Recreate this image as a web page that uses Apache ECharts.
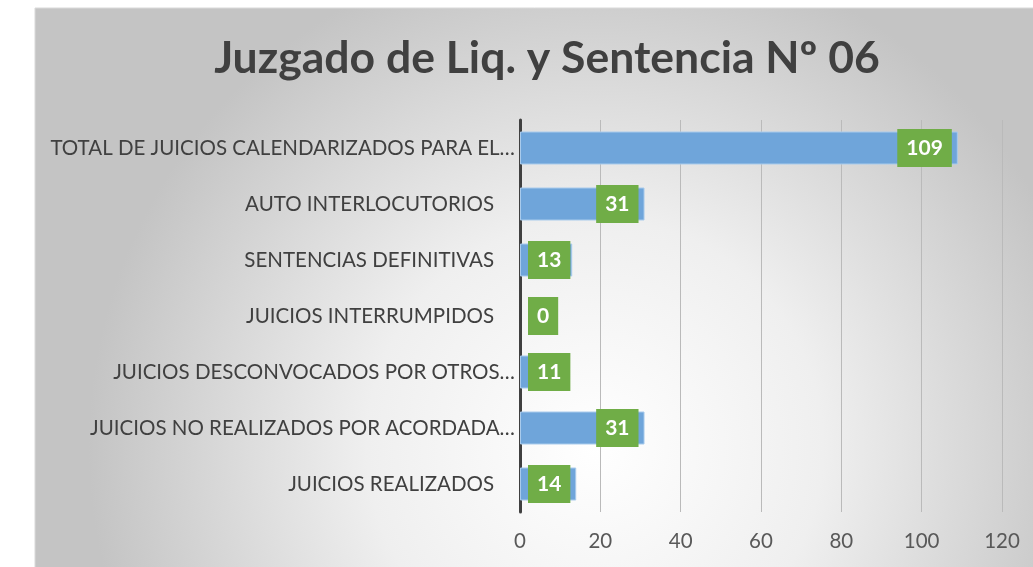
<!DOCTYPE html>
<html>
<head>
<meta charset="utf-8">
<script src="https://cdn.jsdelivr.net/npm/echarts@6/dist/echarts.min.js"></script>
<style>
html,body{margin:0;padding:0;background:#ffffff;}
#chart{width:1033px;height:567px;}
</style>
</head>
<body>
<div id="chart"></div>
<script>
var titleText = 'Juzgado de Liq. y Sentencia Nº 06';
var categories = [
  'TOTAL DE JUICIOS CALENDARIZADOS PARA EL…',
  'AUTO INTERLOCUTORIOS',
  'SENTENCIAS DEFINITIVAS',
  'JUICIOS INTERRUMPIDOS',
  'JUICIOS DESCONVOCADOS POR OTROS…',
  'JUICIOS NO REALIZADOS POR ACORDADA…',
  'JUICIOS REALIZADOS'
];
var values = [109, 31, 13, 0, 11, 31, 14];
var xTicks = [0, 20, 40, 60, 80, 100, 120];

var FONT = 'Lato';
var chart = echarts.init(document.getElementById('chart'), null, {renderer: 'canvas'});

var barData = values.map(function (v) {
  var item = {value: v};
  if (v < 15) {
    item.label = {position: 'insideLeft', distance: 8};
  }
  if (v === 0) {
    item.itemStyle = {borderWidth: 0};
  }
  return item;
});

chart.setOption({
  animation: false,
  backgroundColor: '#ffffff',
  graphic: [{
    type: 'rect',
    z: -10,
    silent: true,
    shape: {x: 35, y: 8, width: 1000, height: 562},
    style: {
      fill: new echarts.graphic.RadialGradient(0.56, 0.78, 0.9, [
        {offset: 0, color: '#ffffff'},
        {offset: 0.45, color: '#efefef'},
        {offset: 1, color: '#c4c4c4'}
      ]),
      stroke: '#d9d9d9',
      lineWidth: 1
    }
  }],
  title: {
    text: titleText,
    left: 542,
    textAlign: 'center',
    top: 31,
    textStyle: {fontFamily: FONT, fontWeight: 'bold', fontSize: 44.5, color: '#404040'}
  },
  grid: {left: 520, right: 31, top: 120, bottom: 55, containLabel: false},
  xAxis: {
    type: 'value',
    min: xTicks[0],
    max: xTicks[xTicks.length - 1],
    interval: 20,
    axisLine: {show: false},
    axisTick: {show: false},
    splitLine: {show: true, lineStyle: {color: '#bababa', width: 1}},
    axisLabel: {
      margin: 19,
      fontFamily: FONT, fontSize: 20.5, color: '#595959',
      formatter: function (v) { return xTicks.indexOf(v) >= 0 ? String(v) : ''; }
    }
  },
  yAxis: {
    type: 'category',
    data: categories,
    inverse: true,
    axisLine: {show: true, lineStyle: {color: '#404040', width: 3}},
    axisTick: {show: false},
    axisLabel: {
      margin: 5, fontFamily: FONT, fontSize: 20.5, color: '#404040',
      formatter: function (name) {
        return name.charAt(name.length - 1) === '…' ? '{t|' + name + '}' : '{p|' + name + '}';
      },
      rich: {
        t: {fontFamily: FONT, fontSize: 20.5, color: '#404040'},
        p: {fontFamily: FONT, fontSize: 20.5, color: '#404040', padding: [0, 21, 0, 0]}
      }
    }
  },
  series: [{
    type: 'bar',
    data: barData,
    barWidth: 33,
    itemStyle: {color: '#6fa5da', borderColor: '#a9cbec', borderWidth: 1},
    label: {
      show: true,
      position: 'insideRight',
      distance: 6,
      backgroundColor: '#70ad47',
      color: '#ffffff',
      fontFamily: FONT,
      fontWeight: 'bold',
      fontSize: 21,
      lineHeight: 22,
      padding: [8, 9]
    }
  }]
});
</script>
</body>
</html>
